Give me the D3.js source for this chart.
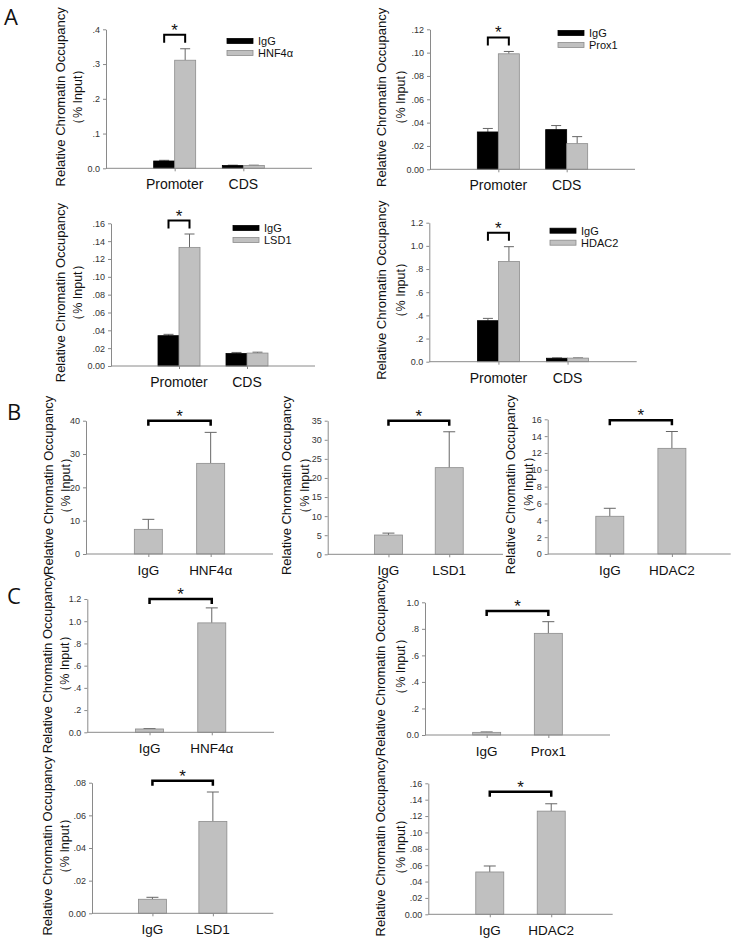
<!DOCTYPE html>
<html><head><meta charset="utf-8">
<script src="https://cdn.jsdelivr.net/npm/d3@7"></script>
<style>body{margin:0;background:#fff}</style>
</head><body>
<svg id="fig" width="739" height="939"></svg>
<script>
// ---------------- Panel A (Promoter vs CDS, IgG vs factor) ----------------
const aCategories = ["Promoter", "CDS"];
const aFactors = ["HNF4α", "Prox1", "LSD1", "HDAC2"];
const aIgGMeans = [[0.021, 0.008], [0.032, 0.034], [0.034, 0.014], [0.354, 0.030]];
const aIgGErrors = [[0.002, 0.001], [0.003, 0.0035], [0.0015, 0.0012], [0.02, 0.003]];
const aFactorMeans = [[0.311, 0.008], [0.099, 0.022], [0.133, 0.0145], [0.865, 0.031]];
const aFactorErrors = [[0.033, 0.001], [0.002, 0.006], [0.015, 0.001], [0.128, 0.002]];
const aTickValues = [[0, 0.1, 0.2, 0.3, 0.4], [0, 0.02, 0.04, 0.06, 0.08, 0.10, 0.12],
  [0, 0.02, 0.04, 0.06, 0.08, 0.10, 0.12, 0.14, 0.16], [0, 0.2, 0.4, 0.6, 0.8, 1.0, 1.2]];
const aTickLabels = [["0.0", ".1", ".2", ".3", ".4"], ["0.00", ".02", ".04", ".06", ".08", ".10", ".12"],
  ["0.00", ".02", ".04", ".06", ".08", ".10", ".12", ".14", ".16"], ["0.0", ".2", ".4", ".6", ".8", "1.0", "1.2"]];
const aBracketLevels = [0.384, 0.113, 0.163, 1.114];

// ---------------- Panel B (IgG vs factor) ----------------
const bFactors = ["HNF4α", "LSD1", "HDAC2"];
const bIgGMeans = [7.4, 5.05, 4.48];
const bIgGErrors = [3.0, 0.5, 0.95];
const bFactorMeans = [27.2, 22.7, 12.55];
const bFactorErrors = [9.3, 9.4, 2.0];
const bTickValues = [[0, 10, 20, 30, 40], [0, 5, 10, 15, 20, 25, 30, 35], [0, 2, 4, 6, 8, 10, 12, 14, 16]];
const bTickLabels = [["0", "10", "20", "30", "40"], ["0", "5", "10", "15", "20", "25", "30", "35"],
  ["0", "2", "4", "6", "8", "10", "12", "14", "16"]];
const bBracketLevels = [40, 35, 15.9];

// ---------------- Panel C (IgG vs factor) ----------------
const cFactors = ["HNF4α", "Prox1", "LSD1", "HDAC2"];
const cIgGMeans = [0.030, 0.020, 0.0086, 0.0517];
const cIgGErrors = [0.004, 0.003, 0.0012, 0.0073];
const cFactorMeans = [0.985, 0.766, 0.0563, 0.126];
const cFactorErrors = [0.135, 0.088, 0.018, 0.009];
const cTickValues = [[0, 0.2, 0.4, 0.6, 0.8, 1.0, 1.2], [0, 0.2, 0.4, 0.6, 0.8, 1.0],
  [0, 0.02, 0.04, 0.06, 0.08], [0, 0.02, 0.04, 0.06, 0.08, 0.10, 0.12, 0.14, 0.16]];
const cTickLabels = [["0.0", ".2", ".4", ".6", ".8", "1.0", "1.2"], ["0.0", ".2", ".4", ".6", ".8", "1.0"],
  ["0.00", ".02", ".04", ".06", ".08"], ["0.00", ".02", ".04", ".06", ".08", ".10", ".12", ".14", ".16"]];
const cBracketLevels = [1.2, 0.934, 0.0812, 0.1497];

const controlName = "IgG";
const yTitle1 = "Relative Chromatin Occupancy";
const yTitle2 = "（% Input）";
const panelLetters = ["A", "B", "C"];

// ---------------- Layout (positions only) ----------------
const layoutA = [
  {x0: 106, x1: 312, yTop: 29.3, yZero: 168.3, t1: 60, t2: 78, legX: 227, legY: 41},
  {x0: 430, x1: 635, yTop: 29.3, yZero: 169.3, t1: 381, t2: 401, legX: 558, legY: 33},
  {x0: 111, x1: 315, yTop: 223.3, yZero: 366, t1: 60, t2: 78, legX: 233, legY: 228},
  {x0: 429.3, x1: 636.7, yTop: 222.7, yZero: 361.7, t1: 381, t2: 401, legX: 550, legY: 230.7}
];
const layoutB = [
  {x0: 86, x1: 273, yTop: 420.7, yZero: 554, t1: 48, t2: 66},
  {x0: 327.7, x1: 510, yTop: 420.7, yZero: 554.3, t1: 286.5, t2: 305, axisEnd: 503},
  {x0: 547.7, x1: 734, yTop: 419.3, yZero: 554, t1: 510, t2: 529, axisEnd: 730.7}
];
const layoutC = [
  {x0: 87.3, x1: 274, yTop: 599, yZero: 732.3, t1: 47, t2: 65},
  {x0: 425, x1: 610, yTop: 602.3, yZero: 735, t1: 380, t2: 401},
  {x0: 92, x1: 273.3, yTop: 782.7, yZero: 913.3, t1: 47, t2: 65},
  {x0: 428.3, x1: 612.7, yTop: 783.3, yZero: 914.3, t1: 380, t2: 401}
];
const letterPos = [[11, 16], [14, 411], [14, 595]];

const FONT = "'Liberation Sans', Arial, sans-serif";
const AXIS = "#8a8a8a";
const GRAY = "#c0c0c0";
const GRAY_STROKE = "#8c8c8c";

const svg = d3.select("#fig");

function axes(g, L, x, y, tv, tl, catSize) {
  const gy = g.append("g").attr("transform", `translate(${L.x0},0)`)
    .call(d3.axisLeft(y).tickValues(tv).tickFormat((d, i) => tl[i]).tickSize(3).tickSizeOuter(0).tickPadding(3));
  gy.select(".domain").attr("stroke", AXIS);
  gy.selectAll(".tick line").attr("stroke", AXIS);
  gy.selectAll(".tick text").attr("fill", "#333").attr("font-size", 9).attr("font-family", FONT);

  const gx = g.append("g").attr("transform", `translate(0,${L.yZero})`)
    .call(d3.axisBottom(x).tickSize(3).tickSizeOuter(0).tickFormat(""));
  gx.select(".domain").attr("stroke", AXIS)
    .attr("d", `M${L.x0},0H${L.axisEnd || L.x1}`);
  gx.selectAll(".tick line").attr("stroke", AXIS);

  g.append("g").selectAll("text").data(x.domain()).join("text")
    .attr("x", d => x(d)).attr("y", L.yZero + 16)
    .attr("text-anchor", "middle").attr("dominant-baseline", "central")
    .attr("font-family", FONT).attr("font-size", catSize).attr("fill", "#111")
    .text(d => d);

  const yc = (L.yTop + L.yZero) / 2 - 2;
  g.append("text").attr("transform", `translate(${L.t1},${yc}) rotate(-90)`)
    .attr("text-anchor", "middle").attr("dominant-baseline", "central")
    .attr("font-family", FONT).attr("font-size", 13).attr("fill", "#111").text(yTitle1);
  g.append("text").attr("transform", `translate(${L.t2},${yc}) rotate(-90)`)
    .attr("text-anchor", "middle").attr("dominant-baseline", "central")
    .attr("font-family", FONT).attr("font-size", 12.5).attr("fill", "#111").text(yTitle2);
}

function errorBars(g, items, y, capW) {
  const eg = g.append("g").attr("stroke", "#666").attr("stroke-width", 1).attr("fill", "none");
  eg.selectAll("path").data(items).join("path")
    .attr("d", d => `M${d.cx},${y(d.v)}V${y(d.v + d.e)}M${d.cx - capW / 2},${y(d.v + d.e)}H${d.cx + capW / 2}`);
}

function bracket(g, xa, xb, yy, leg, sw) {
  g.append("path").attr("d", `M${xa},${yy + leg}V${yy}H${xb}V${yy + leg}`)
    .attr("fill", "none").attr("stroke", "#000").attr("stroke-width", sw);
  g.append("text").attr("x", (xa + xb) / 2).attr("y", yy + 1)
    .attr("text-anchor", "middle").attr("font-family", FONT).attr("font-size", 17)
    .attr("fill", "#111").text("*");
}

// ---------- Panel A ----------
layoutA.forEach((L, k) => {
  const g = svg.append("g");
  const x = d3.scalePoint().domain(aCategories).range([L.x0, L.x1]).padding(1);
  const y = d3.scaleLinear().domain([0, d3.max(aTickValues[k])]).range([L.yZero, L.yTop]);
  const bw = 21;
  const series = [
    {name: controlName, means: aIgGMeans[k], errs: aIgGErrors[k], fill: "#000", stroke: "#000", off: -bw},
    {name: aFactors[k], means: aFactorMeans[k], errs: aFactorErrors[k], fill: GRAY, stroke: GRAY_STROKE, off: 0}
  ];
  const items = [];
  series.forEach(s => aCategories.forEach((c, i) => items.push({
    x: x(c) + s.off, cx: x(c) + s.off + bw / 2, v: s.means[i], e: s.errs[i], fill: s.fill, stroke: s.stroke})));
  errorBars(g, items, y, 10);
  g.append("g").selectAll("rect").data(items).join("rect")
    .attr("x", d => d.x).attr("width", bw)
    .attr("y", d => y(d.v)).attr("height", d => L.yZero - y(d.v))
    .attr("fill", d => d.fill).attr("stroke", d => d.stroke).attr("stroke-width", 0.8);
  axes(g, L, x, y, aTickValues[k], aTickLabels[k], 14);
  // legend
  const lg = g.append("g");
  series.forEach((s, i) => {
    const yy = L.legY + i * 12;
    lg.append("rect").attr("x", L.legX).attr("y", yy - 2.5).attr("width", 26).attr("height", 5)
      .attr("fill", s.fill).attr("stroke", s.stroke).attr("stroke-width", 0.8);
    lg.append("text").attr("x", L.legX + 31).attr("y", yy).attr("dominant-baseline", "central")
      .attr("font-family", FONT).attr("font-size", 11).attr("fill", "#111").text(s.name);
  });
  const p = aCategories[0];
  bracket(g, x(p) - bw / 2, x(p) + bw / 2, y(aBracketLevels[k]), 8, 2);
});

// ---------- Panels B & C ----------
function simplePanels(layout, factors, igM, igE, fM, fE, tvs, tls, levels) {
  layout.forEach((L, k) => {
    const g = svg.append("g");
    const cats = [controlName, factors[k]];
    const x = d3.scalePoint().domain(cats).range([L.x0, L.x1]).padding(1);
    const y = d3.scaleLinear().domain([0, d3.max(tvs[k])]).range([L.yZero, L.yTop]);
    const bw = 28;
    const items = [
      {cx: x(cats[0]), v: igM[k], e: igE[k]},
      {cx: x(cats[1]), v: fM[k], e: fE[k]}
    ];
    errorBars(g, items, y, 12);
    g.append("g").selectAll("rect").data(items).join("rect")
      .attr("x", d => d.cx - bw / 2).attr("width", bw)
      .attr("y", d => y(d.v)).attr("height", d => L.yZero - y(d.v))
      .attr("fill", GRAY).attr("stroke", GRAY_STROKE).attr("stroke-width", 0.8);
    axes(g, L, x, y, tvs[k], tls[k], 13.5);
    bracket(g, x(cats[0]), x(cats[1]), y(levels[k]), 5, 2.5);
  });
}
simplePanels(layoutB, bFactors, bIgGMeans, bIgGErrors, bFactorMeans, bFactorErrors, bTickValues, bTickLabels, bBracketLevels);
simplePanels(layoutC, cFactors, cIgGMeans, cIgGErrors, cFactorMeans, cFactorErrors, cTickValues, cTickLabels, cBracketLevels);

// panel letters
svg.append("g").selectAll("text").data(panelLetters).join("text")
  .attr("x", (d, i) => letterPos[i][0]).attr("y", (d, i) => letterPos[i][1])
  .attr("text-anchor", "middle").attr("dominant-baseline", "central")
  .attr("font-family", "'Open Sans', 'Noto Sans', sans-serif").attr("font-size", 22).attr("fill", "#111")
  .text(d => d);
</script>
</body></html>
